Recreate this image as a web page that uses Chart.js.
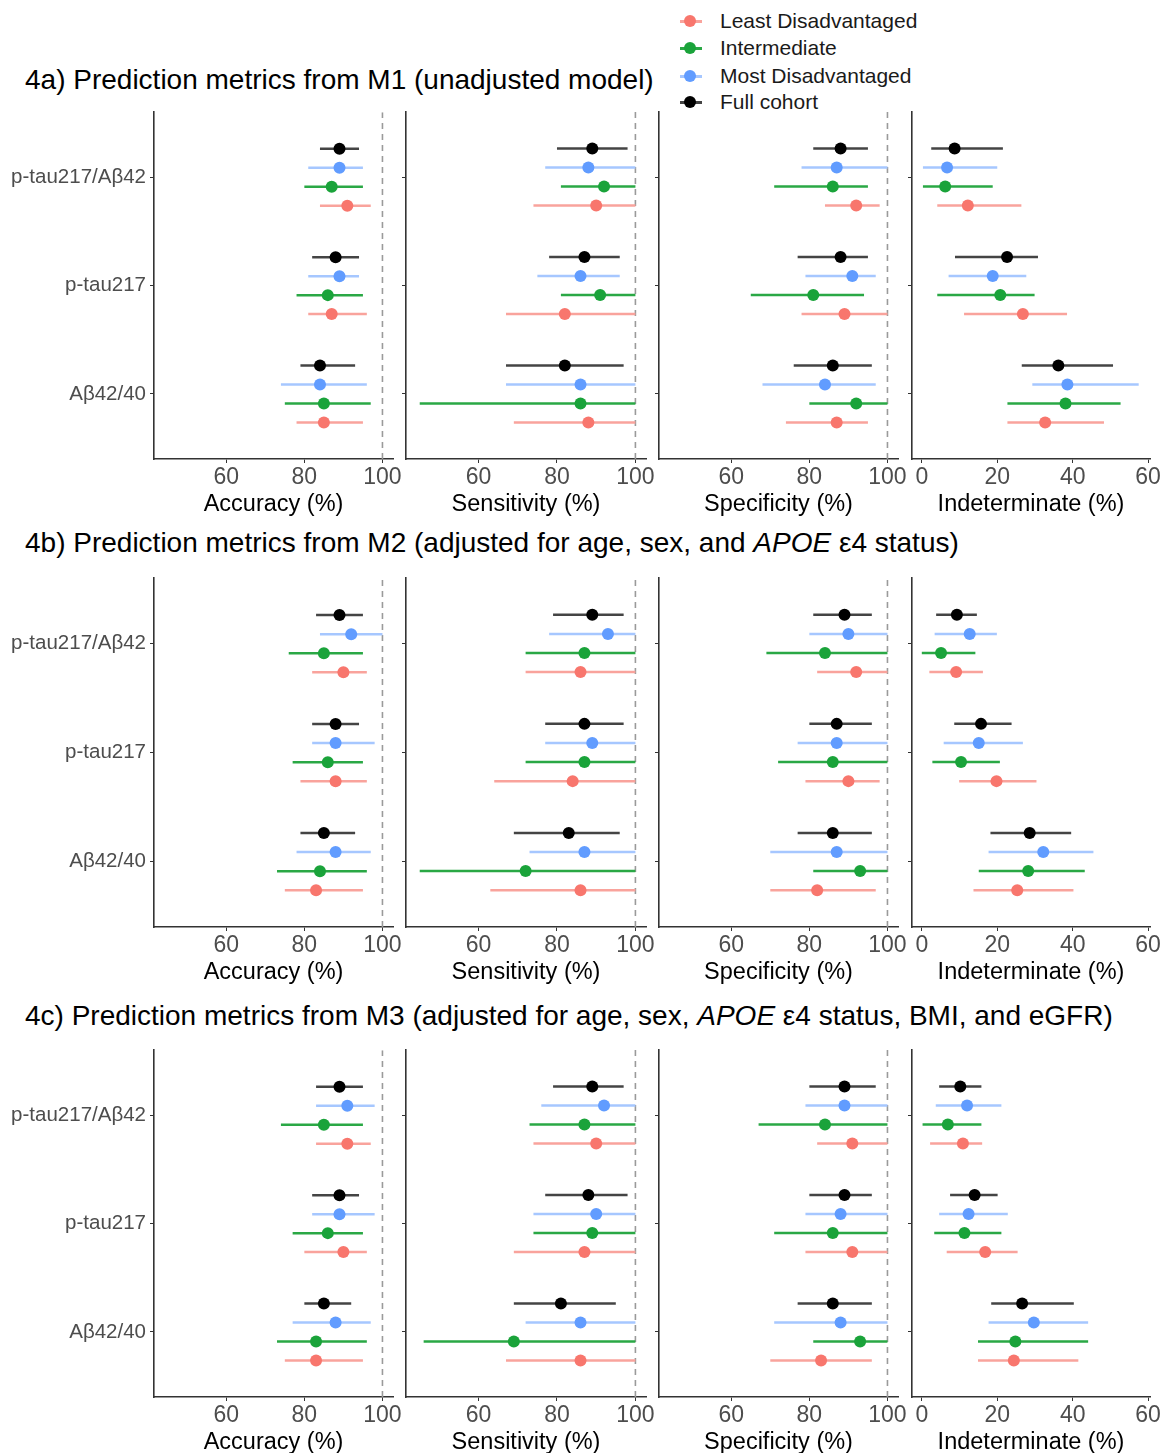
<!DOCTYPE html>
<html>
<head>
<meta charset="utf-8">
<script src="https://cdn.jsdelivr.net/npm/chart.js@4.4.1/dist/chart.umd.min.js"></script>
<style>
  body { margin: 0; background: #fff; width: 1163px; height: 1453px; position: relative; overflow: hidden;
         font-family: "Liberation Sans", Arial, sans-serif; }
  canvas { position: absolute; }
  .title { position: absolute; left: 25px; font-size: 28px; line-height: 32px; color: #000; white-space: nowrap; }
  .leg { position: absolute; left: 676px; height: 26px; line-height: 26px; font-size: 21px; color: #1a1a1a; white-space: nowrap; }
  .leg .key { position: absolute; left: 4px; top: 12px; width: 22px; height: 2.5px; }
  .leg .dot { position: absolute; left: 8px; top: 7px; width: 12px; height: 12px; border-radius: 50%; }
  .leg .txt { position: absolute; left: 44px; top: 0; }
</style>
</head>
<body>

<div class="title" style="top:64px">4a) Prediction metrics from M1 (unadjusted model)</div>
<div class="title" style="top:527px">4b) Prediction metrics from M2 (adjusted for age, sex, and <i>APOE</i> ε4 status)</div>
<div class="title" style="top:1000px">4c) Prediction metrics from M3 (adjusted for age, sex, <i>APOE</i> ε4 status, BMI, and eGFR)</div>

<div id="legend"></div>

<script>
const markers = ['Aβ42/40', 'p-tau217', 'p-tau217/Aβ42'];
const groups = ['Least Disadvantaged', 'Intermediate', 'Most Disadvantaged', 'Full cohort'];
const pointColors = ['#F8766D', '#1AA33A', '#619CFF', '#000000'];
const lineColors = ['#F9A39C', '#2AA845', '#A6C7FF', '#444444'];
const metricTitles = ['Accuracy (%)', 'Sensitivity (%)', 'Specificity (%)', 'Indeterminate (%)'];
const pctTicks = [60, 80, 100];
const indetTicks = [0, 20, 40, 60];

// each row = one marker (Aβ42/40, p-tau217, p-tau217/Aβ42)
// each triple = [estimate, lower, upper] for Least, Intermediate, Most, Full cohort
const m1Accuracy = [
  [[85, 78, 95], [85, 75, 97], [84, 74, 96], [84, 79, 93]],
  [[87, 81, 96], [86, 78, 95], [89, 81, 94], [88, 82, 94]],
  [[91, 84, 97], [87, 80, 95], [89, 81, 95], [89, 84, 94]]
];
const m1Sensitivity = [
  [[88, 69, 100], [86, 45, 100], [86, 67, 100], [82, 67, 97]],
  [[82, 67, 100], [91, 81, 100], [86, 75, 96], [87, 78, 96]],
  [[90, 74, 100], [92, 81, 100], [88, 77, 100], [89, 80, 98]]
];
const m1Specificity = [
  [[87, 74, 95], [92, 80, 100], [84, 68, 97], [86, 76, 96]],
  [[89, 78, 100], [81, 65, 94], [91, 79, 97], [88, 77, 95]],
  [[92, 84, 98], [86, 71, 95], [87, 78, 100], [88, 81, 95]]
];
const m1Indeterminate = [
  [[32.7, 22.7, 48.3], [38.1, 22.7, 52.7], [38.6, 29.3, 57.5], [36.2, 26.5, 50.7]],
  [[26.8, 11.2, 38.5], [20.8, 4.1, 29.9], [18.8, 7.1, 27.7], [22.6, 8.8, 30.8]],
  [[12.2, 4.1, 26.4], [6.2, 0.3, 18.8], [6.7, 0.3, 20.0], [8.7, 2.5, 21.5]]
];

const m2Accuracy = [
  [[83, 75, 95], [84, 73, 96], [88, 78, 97], [85, 79, 93]],
  [[88, 79, 96], [86, 77, 95], [88, 82, 98], [88, 82, 94]],
  [[90, 82, 96], [85, 76, 95], [92, 84, 100], [89, 83, 95]]
];
const m2Sensitivity = [
  [[86, 63, 100], [72, 45, 100], [87, 73, 100], [83, 69, 96]],
  [[84, 64, 100], [87, 72, 100], [89, 77, 100], [87, 77, 97]],
  [[86, 72, 100], [87, 72, 100], [93, 78, 100], [89, 79, 97]]
];
const m2Specificity = [
  [[82, 70, 97], [93, 81, 100], [87, 70, 100], [86, 77, 96]],
  [[90, 79, 98], [86, 72, 100], [87, 77, 100], [87, 80, 96]],
  [[92, 82, 100], [84, 69, 100], [90, 80, 100], [89, 81, 96]]
];
const m2Indeterminate = [
  [[25.3, 13.7, 40.2], [28.2, 15.1, 43.2], [32.2, 17.7, 45.5], [28.6, 18.2, 39.6]],
  [[19.8, 9.9, 30.4], [10.4, 2.8, 20.7], [15.1, 5.8, 26.8], [15.7, 8.6, 23.8]],
  [[9.1, 2.0, 16.2], [5.1, 0, 14.2], [12.7, 3.4, 19.9], [9.3, 3.8, 14.6]]
];

const m3Accuracy = [
  [[83, 75, 95], [83, 73, 96], [88, 77, 97], [85, 80, 92]],
  [[90, 80, 96], [86, 77, 95], [89, 82, 98], [89, 82, 94]],
  [[91, 83, 97], [85, 74, 95], [91, 83, 98], [89, 83, 95]]
];
const m3Sensitivity = [
  [[86, 67, 100], [69, 46, 100], [86, 72, 100], [81, 69, 95]],
  [[87, 69, 100], [89, 74, 100], [90, 74, 100], [88, 77, 98]],
  [[90, 74, 100], [87, 73, 100], [92, 76, 100], [89, 79, 97]]
];
const m3Specificity = [
  [[83, 70, 96], [93, 81, 100], [88, 71, 100], [86, 77, 96]],
  [[91, 79, 100], [86, 71, 100], [88, 79, 100], [89, 80, 96]],
  [[91, 82, 100], [84, 67, 100], [89, 79, 100], [89, 80, 97]]
];
const m3Indeterminate = [
  [[24.4, 14.9, 41.5], [24.8, 14.9, 44.1], [29.7, 17.7, 44.1], [26.6, 18.4, 40.3]],
  [[16.8, 6.6, 25.4], [11.3, 3.3, 21.1], [12.4, 4.6, 22.8], [14.0, 7.5, 20.1]],
  [[10.9, 2.2, 16.0], [6.9, 0.2, 15.8], [12.0, 3.7, 21.1], [10.2, 4.6, 15.8]]
];

Chart.defaults.font.family = '"Liberation Sans", Arial, sans-serif';

// layout of the figure
const rows = [
  { top: 112, bottom: 459, panels: [m1Accuracy, m1Sensitivity, m1Specificity, m1Indeterminate] },
  { top: 578, bottom: 927, panels: [m2Accuracy, m2Sensitivity, m2Specificity, m2Indeterminate] },
  { top: 1050, bottom: 1397, panels: [m3Accuracy, m3Sensitivity, m3Specificity, m3Indeterminate] }
];
const panelLeft = [154, 406, 659, 912];
const panelRight = [393, 646, 898, 1150];
const dodge = [-0.2625, -0.0875, 0.0875, 0.2625];
const yMin = 0.4, yMax = 3.6;

function makePanel(row, col) {
  const values = row.panels[col];
  const isFirst = col === 0;
  const isIndet = col === 3;
  const yw = isFirst ? 154 : 7;
  // top padding is larger than half a tick label so Chart.js does not push the plot down
  const padTop = 16, padRight = 24, xh = 64;

  const canvas = document.createElement('canvas');
  canvas.width = yw + (panelRight[col] - panelLeft[col]) + padRight;
  canvas.height = padTop + (row.bottom - row.top) + xh;
  canvas.style.left = (panelLeft[col] - yw) + 'px';
  canvas.style.top = (row.top - padTop) + 'px';
  document.body.appendChild(canvas);

  const datasets = [];
  // confidence intervals
  values.forEach((markerRow, m) => {
    markerRow.forEach((v, g) => {
      const y = m + 1 + dodge[g];
      datasets.push({
        data: [{ x: v[1], y: y }, { x: v[2], y: y }],
        showLine: true, borderColor: lineColors[g], borderWidth: 2.5,
        pointRadius: 0, order: 2
      });
    });
  });
  // point estimates
  groups.forEach((name, g) => {
    datasets.push({
      label: name,
      data: values.map((markerRow, m) => ({ x: markerRow[g][0], y: m + 1 + dodge[g] })),
      backgroundColor: pointColors[g], borderWidth: 0, pointRadius: 6, order: 0
    });
  });
  // reference line at 100%
  if (!isIndet) {
    datasets.push({
      data: [{ x: 100, y: yMin }, { x: 100, y: yMax }],
      showLine: true, borderColor: '#9a9a9a', borderWidth: 1.6, borderDash: [6, 5],
      pointRadius: 0, order: 3
    });
  }

  const tickVals = isIndet ? indetTicks : pctTicks;

  new Chart(canvas, {
    type: 'scatter',
    data: { datasets: datasets },
    options: {
      responsive: false,
      animation: false,
      events: [],
      layout: { autoPadding: false, padding: { top: padTop, right: padRight, left: 0, bottom: 0 } },
      plugins: { legend: { display: false }, tooltip: { enabled: false } },
      scales: {
        x: {
          type: 'linear',
          min: isIndet ? -2.6 : 41.5,
          max: isIndet ? 60.5 : 102.7,
          afterBuildTicks: s => { s.ticks = tickVals.map(v => ({ value: v })); },
          afterFit: s => { s.height = xh; },
          ticks: { font: { size: 23 }, color: '#4d4d4d', padding: 1, maxRotation: 0 },
          grid: { drawOnChartArea: false, drawTicks: true, tickLength: 4, color: '#333', lineWidth: 1 },
          border: { color: '#333', width: 1.6 },
          title: { display: true, text: metricTitles[col], font: { size: 23.5 }, color: '#000', padding: { top: 0, bottom: 4 } }
        },
        y: {
          type: 'linear',
          min: yMin,
          max: yMax,
          afterBuildTicks: s => { s.ticks = [1, 2, 3].map(v => ({ value: v })); },
          afterFit: s => { s.width = yw; },
          ticks: { display: isFirst, callback: v => markers[v - 1], font: { size: 20.5 }, color: '#4d4d4d', padding: 4 },
          grid: { drawOnChartArea: false, drawTicks: true, tickLength: 4, color: '#333', lineWidth: 1 },
          border: { color: '#333', width: 1.6 }
        }
      }
    }
  });
}

rows.forEach(row => {
  for (let c = 0; c < 4; c++) makePanel(row, c);
});

// legend
const legendTops = [8, 35, 63, 89];
const legendBox = document.getElementById('legend');
groups.forEach((name, g) => {
  const item = document.createElement('div');
  item.className = 'leg';
  item.style.top = legendTops[g] + 'px';
  item.innerHTML = '<span class="key" style="background:' + lineColors[g] + '"></span>' +
    '<span class="dot" style="background:' + pointColors[g] + '"></span>' +
    '<span class="txt">' + name + '</span>';
  legendBox.appendChild(item);
});
</script>
</body>
</html>
